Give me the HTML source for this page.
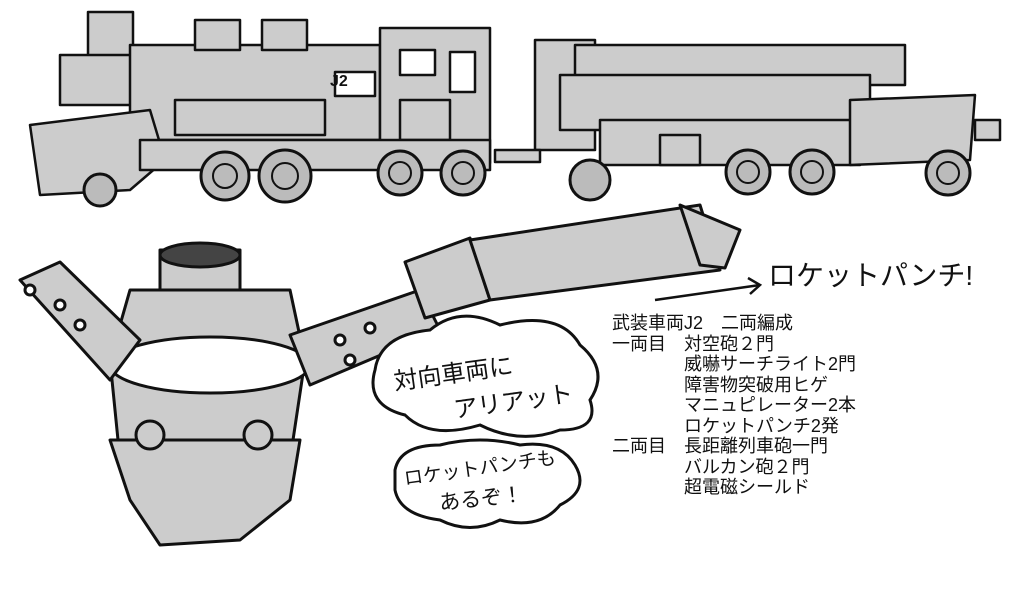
<!DOCTYPE html>
<html><head><meta charset="utf-8">
<style>
html,body{margin:0;padding:0;background:#fff;}
body{width:1018px;height:592px;overflow:hidden;position:relative;}
svg{position:absolute;left:0;top:0;}
.spec{position:absolute;left:612px;top:313px;font-family:"Liberation Sans","Noto Sans CJK JP",sans-serif;font-size:18px;line-height:20.5px;color:#111;white-space:pre;}
.hand{font-family:"Liberation Sans","Noto Sans CJK JP",sans-serif;fill:#111;}
</style></head><body>
<svg width="1018" height="592" viewBox="0 0 1018 592">
<g stroke="#111" stroke-width="2.5" fill="#ccc" stroke-linejoin="round">
 <rect x="88" y="12" width="45" height="60"/>
 <rect x="60" y="55" width="80" height="50"/>
 <rect x="130" y="45" width="250" height="95"/>
 <rect x="195" y="20" width="45" height="30"/>
 <rect x="262" y="20" width="45" height="30"/>
 <rect x="380" y="28" width="110" height="135"/>
 <rect x="400" y="50" width="35" height="25" fill="#fff"/>
 <rect x="450" y="52" width="25" height="40" fill="#fff"/>
 <rect x="335" y="72" width="40" height="24" fill="#fff"/>
 <rect x="175" y="100" width="150" height="35"/>
 <rect x="400" y="100" width="50" height="40"/>
 <polygon points="30,125 150,110 165,160 130,190 40,195"/>
 <rect x="140" y="140" width="350" height="30"/>
 <rect x="535" y="40" width="60" height="110"/>
 <rect x="575" y="45" width="330" height="40"/>
 <rect x="560" y="75" width="310" height="55"/>
 <rect x="600" y="120" width="260" height="45"/>
 <polygon points="850,100 975,95 970,160 850,165"/>
 <rect x="660" y="135" width="40" height="30"/>
 <rect x="975" y="120" width="25" height="20"/>
 <rect x="495" y="150" width="45" height="12"/>
</g>
<g stroke="#111" stroke-width="3" fill="#bbb">
 <circle cx="225" cy="176" r="24"/><circle cx="285" cy="176" r="26"/>
 <circle cx="400" cy="173" r="22"/><circle cx="463" cy="173" r="22"/>
 <circle cx="590" cy="180" r="20"/><circle cx="748" cy="172" r="22"/>
 <circle cx="812" cy="172" r="22"/><circle cx="948" cy="173" r="22"/>
 <circle cx="100" cy="190" r="16"/>
</g>
<g stroke="#111" stroke-width="2" fill="none">
 <circle cx="225" cy="176" r="12"/><circle cx="285" cy="176" r="13"/>
 <circle cx="400" cy="173" r="11"/><circle cx="463" cy="173" r="11"/>
 <circle cx="748" cy="172" r="11"/><circle cx="812" cy="172" r="11"/><circle cx="948" cy="173" r="11"/>
</g>
<g stroke="#111" stroke-width="3" fill="#ccc" stroke-linejoin="round">
 <rect x="160" y="250" width="80" height="110"/>
 <ellipse cx="200" cy="255" rx="40" ry="12" fill="#444"/>
 <polygon points="130,290 290,290 305,360 290,460 120,460 110,360"/>
 <ellipse cx="210" cy="365" rx="100" ry="28" fill="#fff"/>
 <polygon points="110,440 300,440 290,500 240,540 160,545 130,500"/>
 <circle cx="150" cy="435" r="14"/><circle cx="258" cy="435" r="14"/>
 <polygon points="20,280 60,262 140,340 110,380"/>
 <polygon points="290,335 420,290 440,330 310,385"/>
 <polygon points="405,262 470,238 490,300 425,318"/>
 <polygon points="470,240 700,205 720,270 490,300"/>
 <polygon points="680,205 740,230 725,268 700,265"/>
</g>
<g stroke="#111" stroke-width="3" fill="#fff">
 <circle cx="30" cy="290" r="5"/><circle cx="60" cy="305" r="5"/><circle cx="80" cy="325" r="5"/>
 <circle cx="340" cy="340" r="5"/><circle cx="370" cy="328" r="5"/><circle cx="350" cy="360" r="5"/>
 <path d="M375,370 Q380,335 430,330 Q460,305 500,325 Q560,310 580,345 Q610,370 590,400 Q600,430 560,430 Q520,445 480,425 Q430,440 405,415 Q365,405 375,370 Z"/>
 <path d="M395,470 Q400,445 440,445 Q480,435 520,445 Q560,440 575,465 Q590,490 560,505 Q540,530 500,520 Q470,535 440,520 Q400,515 395,490 Z"/>
</g>
<path d="M655,300 L760,285" stroke="#111" stroke-width="2.5" fill="none"/>
<path d="M748,278 L760,285 L750,294" stroke="#111" stroke-width="2.5" fill="none"/>
<text class="hand" x="768" y="285" font-size="28">ロケットパンチ!</text>
<text class="hand" x="395" y="390" font-size="24" transform="rotate(-8 395 390)">対向車両に</text>
<text class="hand" x="455" y="418" font-size="24" transform="rotate(-8 455 418)">アリアット</text>
<text class="hand" x="405" y="485" font-size="19" transform="rotate(-8 405 485)">ロケットパンチも</text>
<text class="hand" x="440" y="510" font-size="21" transform="rotate(-6 440 510)">あるぞ！</text>
<text class="hand" x="330" y="86" font-size="16" font-weight="bold">J2</text>
</svg>
<div class="spec">武装車両J2　二両編成
一両目　対空砲２門
　　　　威嚇サーチライト2門
　　　　障害物突破用ヒゲ
　　　　マニュピレーター2本
　　　　ロケットパンチ2発
二両目　長距離列車砲一門
　　　　バルカン砲２門
　　　　超電磁シールド</div>
</body></html>
